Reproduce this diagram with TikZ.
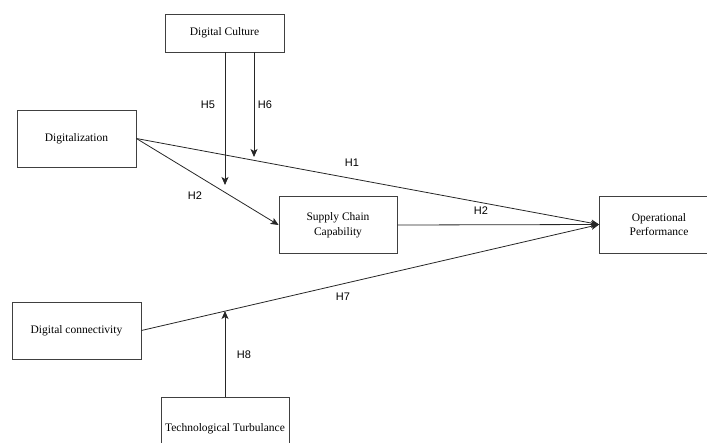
\documentclass[tikz,border=0pt]{standalone}
\usepackage{fontspec}
\setmainfont{Liberation Serif}
\newfontfamily\hlabfont{Liberation Sans}
\usepackage{tikz}
\usetikzlibrary{arrows.meta, positioning, calc}
\tikzset{%
    boxsty/.style={
        draw=black!75,
        line width=0.8pt,
        align=center,
        inner sep=0pt,
        minimum height=57pt,
        minimum width=119pt,
        font=\fontsize{11.5}{14.5}\selectfont,
    },
    hlabsty/.style={
        inner sep=0pt,
        font=\hlabfont\fontsize{11}{12}\selectfont,
    },
    arrsty/.style={
        draw=black!85,
        line width=0.8pt,
        -{Stealth[length=8pt,width=7pt,inset=2pt]},
    },
}

\begin{document}
\begin{tikzpicture}[x=1pt,y=-1pt]

\useasboundingbox (0,0) rectangle (707,442);
\clip (0,0) rectangle (707,442);

% construct boxes
\node (dcul) [boxsty,minimum height=38pt] at (224.5,33) {Digital Culture};
\node (digi) [boxsty] at (76.5,138.5) {Digitalization};
\node (scc)  [boxsty,minimum width=118pt] at (338,225) {Supply Chain\\Capability};
\node (opp)  [boxsty] at (659,224.5) {Operational\\Performance};
\node (dcon) [boxsty,minimum width=129pt] at (76.5,330.5) {Digital connectivity};
\node (ttur) [boxsty,minimum width=128pt,minimum height=64pt] at (225,429) {Technological Turbulance};

% free ends of the moderating arrows
\coordinate (h5end) at (225,185);
\coordinate (h6end) at (254,157);
\coordinate (h8end) at (225,311);

% direct paths
\draw [arrsty] (digi.east) -- (opp.west);
\draw [arrsty] (digi.east) -- (scc.west);
\draw [arrsty] (scc.east) -- (opp.west);
\draw [arrsty] (dcon.east) -- (opp.west);

% moderators
\draw [arrsty] (dcul.south -| h5end) -- (h5end);
\draw [arrsty] (dcul.south -| h6end) -- (h6end);
\draw [arrsty] (ttur.north -| h8end) -- (h8end);

% hypothesis labels
\node (lh5)  [hlabsty] at (208,105) {H5};
\node (lh6)  [hlabsty] at (265,105) {H6};
\node (lh1)  [hlabsty] at (352,163) {H1};
\node (lh2a) [hlabsty] at (195,196) {H2};
\node (lh2b) [hlabsty] at (481,211) {H2};
\node (lh7)  [hlabsty] at (343,297) {H7};
\node (lh8)  [hlabsty] at (244,355) {H8};

\end{tikzpicture}
\end{document}
